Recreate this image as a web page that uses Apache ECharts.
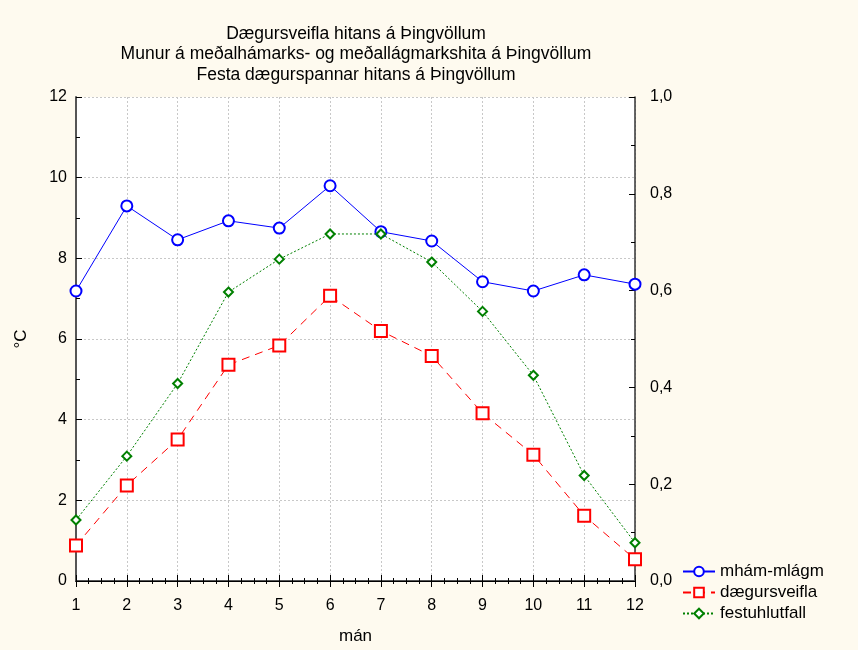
<!DOCTYPE html>
<html>
<head>
<meta charset="utf-8">
<script src="https://cdn.jsdelivr.net/npm/echarts@6/dist/echarts.min.js"></script>
<style>
  html, body { margin: 0; padding: 0; background: #FEFAEF; }
  #chart { width: 858px; height: 650px; }
</style>
</head>
<body>
<div id="chart"></div>
<script>
  // mánuðir
  var months = [1, 2, 3, 4, 5, 6, 7, 8, 9, 10, 11, 12];
  // munur á meðalhámarki og meðallágmarki (°C)
  var mhamMlagm = [7.19, 9.30, 8.46, 8.93, 8.75, 9.80, 8.66, 8.43, 7.42, 7.19, 7.59, 7.36];
  // dægursveifla (°C)
  var daegursveifla = [0.88, 2.37, 3.51, 5.36, 5.84, 7.07, 6.20, 5.58, 4.16, 3.13, 1.62, 0.54];
  // festuhlutfall (hægri ás)
  var festuhlutfall = [0.126, 0.258, 0.408, 0.597, 0.665, 0.717, 0.717, 0.659, 0.557, 0.425, 0.218, 0.079];
  var titleLines = [
    'Dægursveifla hitans á Þingvöllum',
    'Munur á meðalhámarks- og meðallágmarkshita á Þingvöllum',
    'Festa dægurspannar hitans á Þingvöllum'
  ];

  function pairs(vals) {
    return months.map(function (m, i) { return [m, vals[i]]; });
  }

  var font = 'Liberation Sans, Arial, sans-serif';
  var chart = echarts.init(document.getElementById('chart'));

  chart.setOption({
    backgroundColor: '#FEFAEF',
    animation: false,
    textStyle: { fontFamily: font },
    graphic: titleLines.map(function (t, i) {
      return {
        type: 'text',
        x: 356,
        y: 34 + i * 20.5,
        style: { text: t, fill: '#000', font: '17.5px ' + font, textAlign: 'center', textVerticalAlign: 'middle' }
      };
    }),
    grid: {
      left: 76, right: 223, top: 97, bottom: 69,
      outerBoundsMode: 'none',
      containLabel: false,
      show: true, backgroundColor: '#fff', borderWidth: 0
    },
    legend: {
      orient: 'vertical',
      left: 677, top: 558,
      itemWidth: 32, itemHeight: 12, itemGap: 4,
      textStyle: { fontSize: 17, color: '#000', fontFamily: font },
      data: ['mhám-mlágm', 'dægursveifla', 'festuhlutfall']
    },
    xAxis: [{
      type: 'value', min: 1, max: 12, interval: 1,
      name: 'mán', nameLocation: 'middle', nameGap: 47,
      nameTextStyle: { fontSize: 17, color: '#000' },
      axisLine: { lineStyle: { color: '#555', width: 2 } },
      axisTick: { inside: true, length: 6, lineStyle: { color: '#000' } },
      minorTick: { show: true, splitNumber: 4, length: 3, lineStyle: { color: '#000' } },
      axisLabel: { fontSize: 16, color: '#000', margin: 17 },
      splitLine: { show: true, lineStyle: { color: '#c8c8c8', type: [2, 2] } }
    }, {
      type: 'value', min: 1, max: 12, interval: 1, position: 'top',
      axisLine: { show: true, lineStyle: { color: '#000', width: 1 } },
      axisTick: { show: true, inside: true, length: 6, lineStyle: { color: '#000' } },
      minorTick: { show: true, splitNumber: 4, length: 3, lineStyle: { color: '#000' } },
      axisLabel: { show: false },
      splitLine: { show: false }
    }],
    yAxis: [{
      type: 'value', min: 0, max: 12, interval: 2,
      name: '°C', nameLocation: 'middle', nameGap: 46,
      nameTextStyle: { fontSize: 17, color: '#000' },
      axisLine: { show: true, lineStyle: { color: '#555', width: 2 } },
      axisTick: { show: true, inside: true, length: 6, lineStyle: { color: '#000' } },
      minorTick: { show: true, splitNumber: 2, length: 4, lineStyle: { color: '#000' } },
      axisLabel: { fontSize: 16, color: '#000', margin: 9 },
      splitLine: { show: true, lineStyle: { color: '#c8c8c8', type: [2, 2] } }
    }, {
      type: 'value', min: 0, max: 1, interval: 0.2, position: 'right',
      axisLine: { show: true, lineStyle: { color: '#333', width: 1.5 } },
      axisTick: { show: true, inside: true, length: 6, lineStyle: { color: '#000' } },
      minorTick: { show: true, splitNumber: 2, length: 4, lineStyle: { color: '#000' } },
      axisLabel: {
        fontSize: 16, color: '#000', margin: 15,
        formatter: function (v) { return v.toFixed(1).replace('.', ','); }
      },
      splitLine: { show: false }
    }],
    series: [{
      name: 'mhám-mlágm',
      type: 'line',
      data: pairs(mhamMlagm),
      symbol: 'emptyCircle', symbolSize: 11,
      itemStyle: { color: '#0000FF', borderWidth: 1.5 },
      lineStyle: { color: '#0000FF', width: 1 }
    }, {
      name: 'dægursveifla',
      type: 'line',
      data: pairs(daegursveifla),
      symbol: 'emptyRect', symbolSize: 12,
      itemStyle: { color: '#FF0000', borderWidth: 1.5 },
      lineStyle: { color: '#FF0000', width: 1, type: [8, 6] }
    }, {
      name: 'festuhlutfall',
      type: 'line',
      yAxisIndex: 1,
      data: pairs(festuhlutfall),
      symbol: 'emptyDiamond', symbolSize: 9,
      itemStyle: { color: '#008000', borderWidth: 1.2 },
      lineStyle: { color: '#008000', width: 1, type: [2, 2] }
    }]
  });
</script>
</body>
</html>
